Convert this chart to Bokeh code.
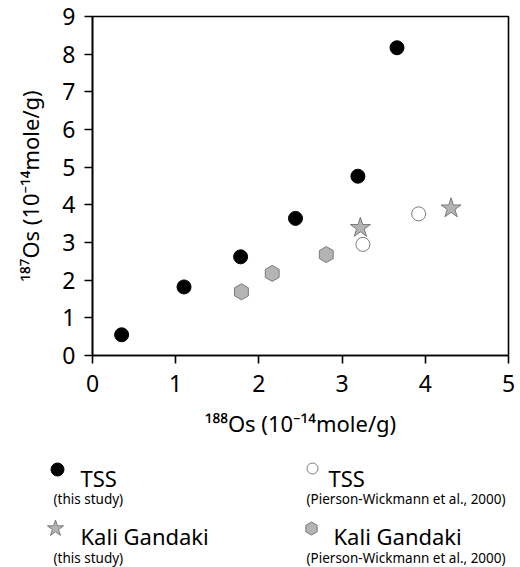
import numpy as np
from bokeh.plotting import figure
from bokeh.models import Range1d, FixedTicker
from bokeh.embed import file_html
from bokeh.resources import INLINE
from bokeh.core.properties import value

# ---- data ----
tss_x = [0.35, 1.10, 1.78, 2.44, 3.19, 3.66]
tss_y = [0.55, 1.82, 2.62, 3.64, 4.76, 8.17]
tss_pw_x = [3.25, 3.92]
tss_pw_y = [2.95, 3.76]
kali_x = [3.22, 4.31]
kali_y = [3.39, 3.91]
kali_pw_x = [1.79, 2.16, 2.81]
kali_pw_y = [1.69, 2.18, 2.68]
x_ticks = [0, 1, 2, 3, 4, 5]
y_ticks = [0, 1, 2, 3, 4, 5, 6, 7, 8, 9]
x_label = "\u00b9\u2078\u2078Os (10\u207b\u00b9\u2074mole/g)"
y_label = "\u00b9\u2078\u2077Os (10\u207b\u00b9\u2074mole/g)"
legend_titles = ["TSS", "TSS", "Kali Gandaki", "Kali Gandaki"]
legend_subs = ["(this study)", "(Pierson-Wickmann et al., 2000)",
               "(this study)", "(Pierson-Wickmann et al., 2000)"]

FONT = "Noto Sans"
GREY_FILL = "#b4b4b4"
GREY_LINE = "#7a7a7a"
W = 520
H1 = 440
H2 = 127
BL, BR, BT = 92, 12, 16
FRAME_H = 339

p = figure(width=W, height=H1, x_range=Range1d(0, 5), y_range=Range1d(0, 9),
           output_backend="svg", toolbar_location=None,
           min_border_left=BL, min_border_right=BR, min_border_top=BT,
           min_border_bottom=H1 - BT - FRAME_H)
p.grid.visible = False
p.outline_line_color = "black"
p.outline_line_width = 1.6
p.background_fill_color = "white"
p.border_fill_color = "white"

for ax, ticks in ((p.xaxis[0], x_ticks), (p.yaxis[0], y_ticks)):
    ax.ticker = FixedTicker(ticks=ticks)
    ax.minor_tick_line_color = None
    ax.major_tick_in = 0
    ax.major_tick_out = 8
    ax.major_tick_line_width = 1.6
    ax.axis_line_width = 1.6
    ax.axis_line_color = "black"
    ax.major_tick_line_color = "black"
    ax.major_label_text_font = FONT
    ax.major_label_text_font_size = "23px"
    ax.major_label_text_color = "black"
    ax.axis_label_text_font = FONT
    ax.axis_label_text_font_size = "22px"
    ax.axis_label_text_font_style = "normal"
    ax.axis_label_text_color = "black"

p.xaxis.axis_label = x_label
p.yaxis.axis_label = y_label
p.xaxis.major_label_standoff = 11
p.yaxis.major_label_standoff = 9
p.xaxis.axis_label_standoff = 13
p.yaxis.axis_label_standoff = 14

p.scatter(kali_pw_x, kali_pw_y, marker="hex", size=16, angle=np.pi / 6,
          fill_color=GREY_FILL, line_color=GREY_LINE, line_width=1)
p.scatter(kali_x, kali_y, marker="star", size=21,
          fill_color=GREY_FILL, line_color=GREY_LINE, line_width=1)
p.scatter(tss_pw_x, tss_pw_y, marker="circle", size=14,
          fill_color="white", line_color=GREY_LINE, line_width=1)
p.scatter(tss_x, tss_y, marker="circle", size=14,
          fill_color="black", line_color="black")

# ---- legend panel (coordinates = pixels of the picture) ----
lg = figure(width=W, height=H2, x_range=Range1d(0, W), y_range=Range1d(H1 + H2, H1),
            output_backend="svg", toolbar_location=None,
            x_axis_type=None, y_axis_type=None,
            min_border_left=0, min_border_right=0,
            min_border_top=0, min_border_bottom=0)
lg.grid.visible = False
lg.outline_line_color = None
lg.background_fill_color = "white"
lg.border_fill_color = "white"

mark_x = [57, 312, 55, 311]
mark_y = [469, 468, 528, 528]
title_x = [80, 328, 80, 333]
title_y = [477, 477, 535, 535]
sub_x = [53, 306, 53, 306]
sub_y = [498, 498, 557, 557]

lg.scatter([mark_x[0]], [mark_y[0]], marker="circle", size=13, fill_color="black", line_color="black")
lg.scatter([mark_x[1]], [mark_y[1]], marker="circle", size=11, fill_color="white", line_color=GREY_LINE)
lg.scatter([mark_x[2]], [mark_y[2]], marker="star", size=17, fill_color=GREY_FILL, line_color=GREY_LINE)
lg.scatter([mark_x[3]], [mark_y[3]], marker="hex", size=13, angle=np.pi / 6,
           fill_color=GREY_FILL, line_color=GREY_LINE)

lg.text(title_x, title_y, text=legend_titles, text_font=value(FONT), text_font_size="22px",
        text_baseline="alphabetic", text_align="left", text_color="black")
lg.text(sub_x, sub_y, text=legend_subs, text_font=value(FONT), text_font_size="13.5px",
        text_baseline="alphabetic", text_align="left", text_color="black")

open("out.html", "w").write(file_html([p, lg], INLINE))
